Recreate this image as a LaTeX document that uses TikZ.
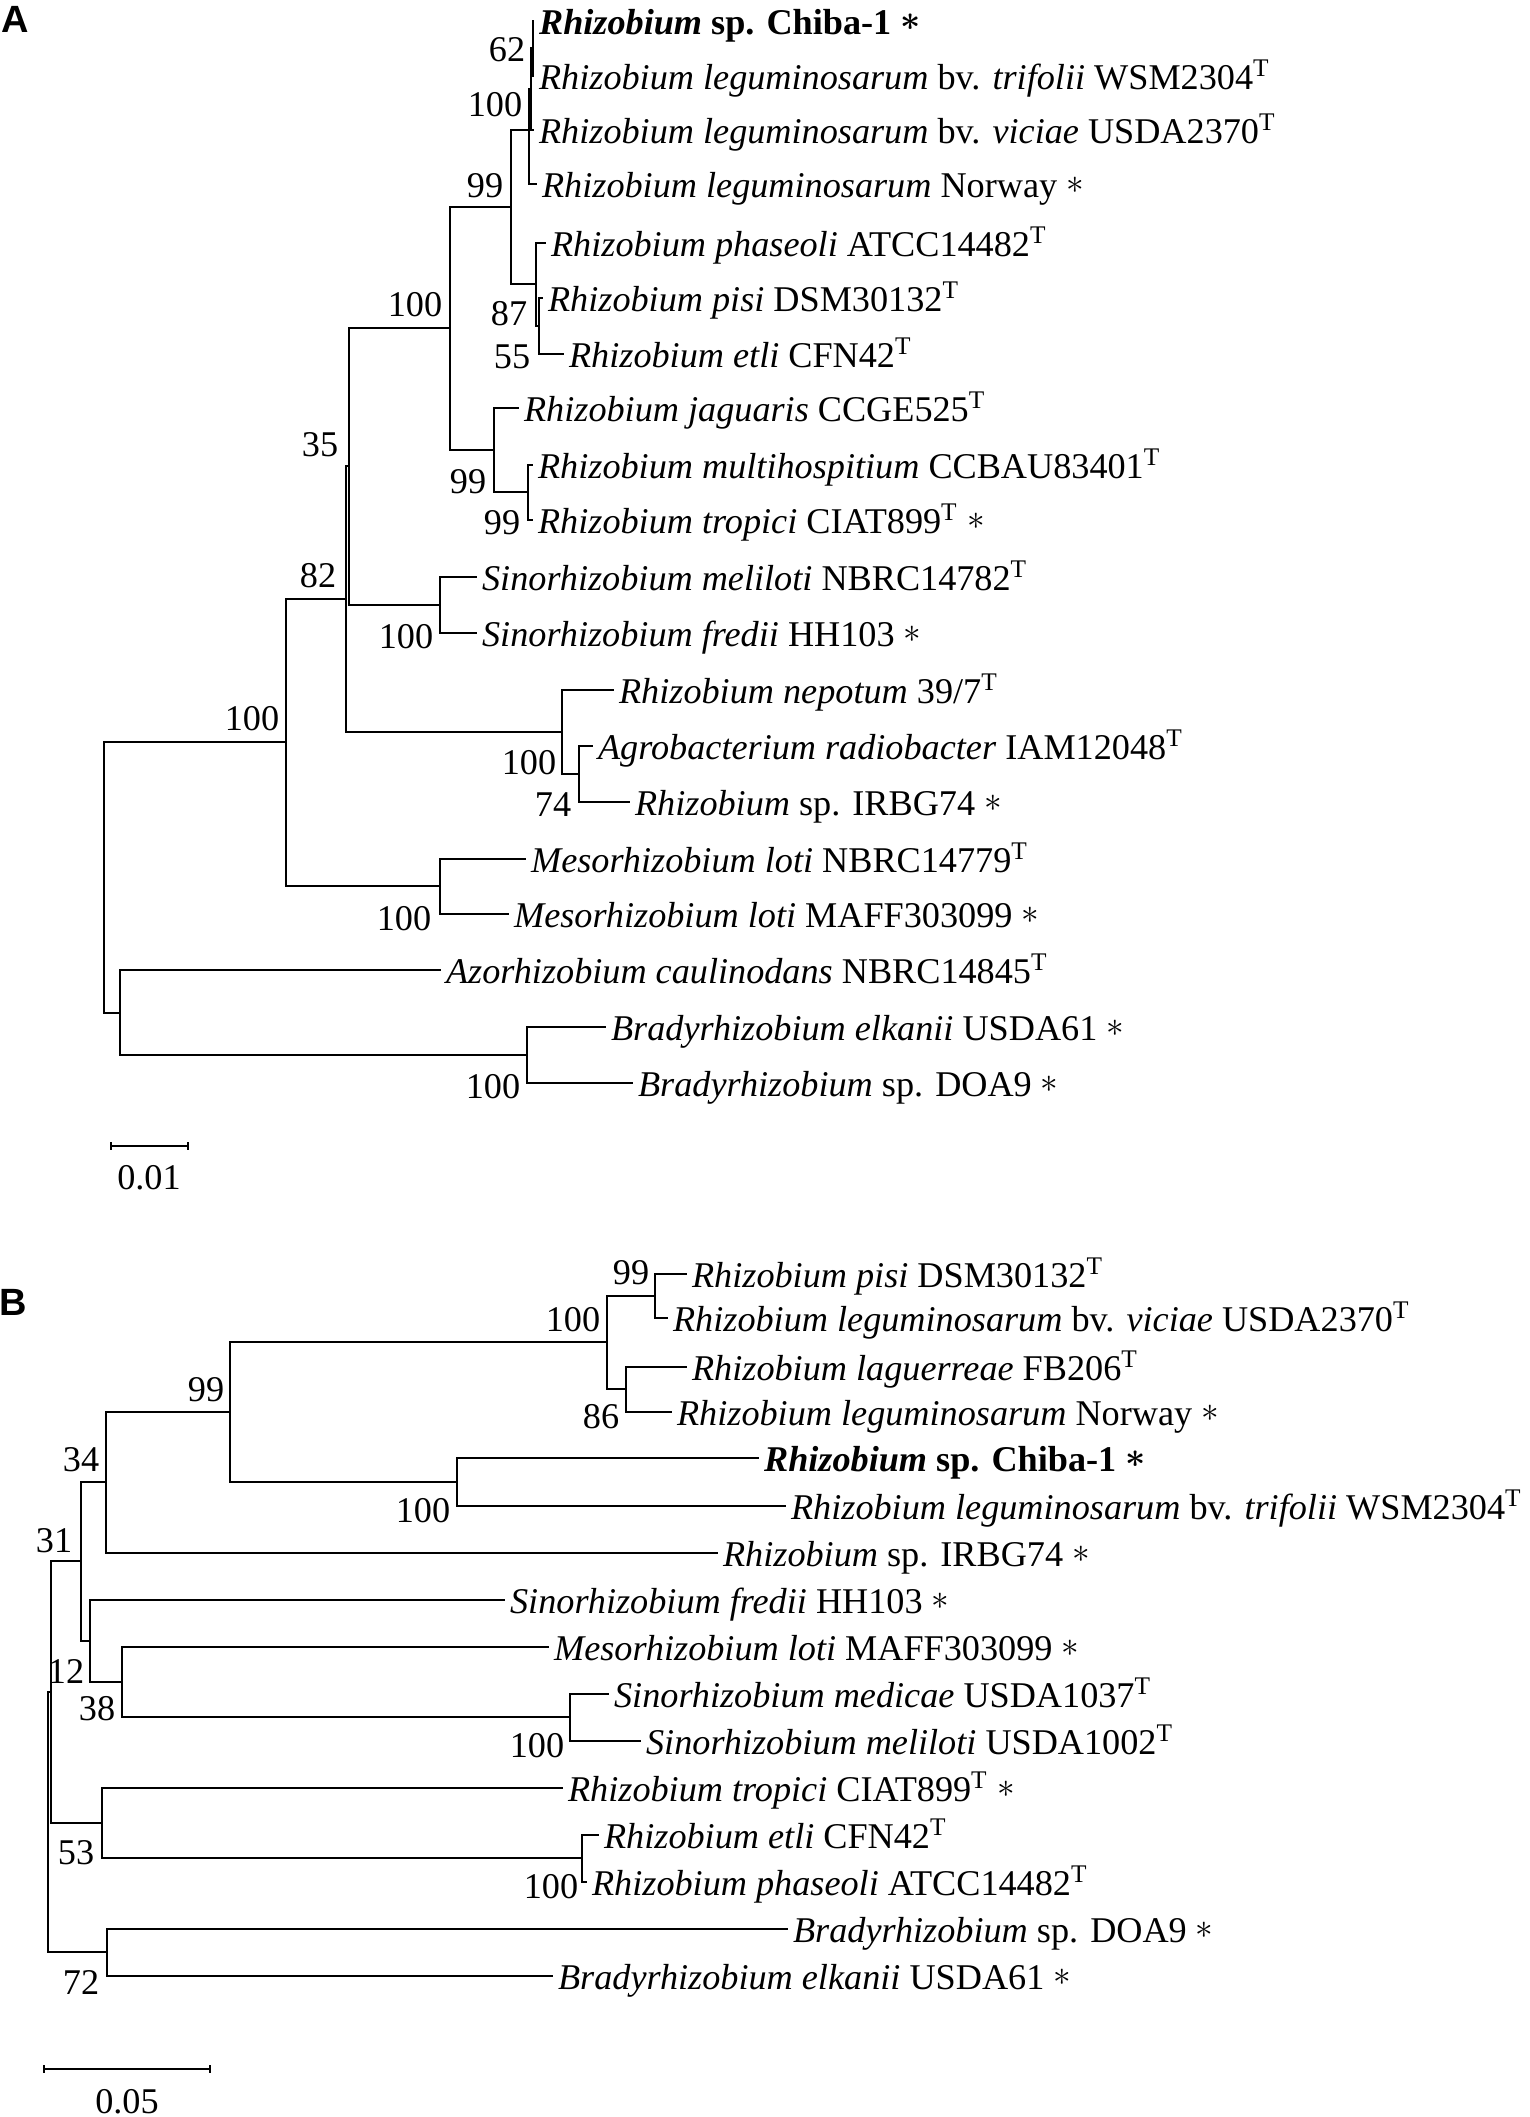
\documentclass[tikz,border=0pt]{standalone}
\usepackage{fontspec}
\setmainfont{Liberation Serif}
\newfontfamily\panelfont{Liberation Sans}
\newcommand{\typestr}{\textsuperscript{T}}
\newcommand{\genome}{\raisebox{0.11em}{$\ast$}}

\begin{document}
\begin{tikzpicture}[x=0.01cm, y=-0.01cm, line width=0.5pt,
  tip/.style={anchor=base west, inner xsep=1.2pt, inner ysep=0pt, yshift=-3.8pt},
  boot/.style={anchor=east, inner sep=0pt},
  panel/.style={font=\panelfont\bfseries\fontsize{10.8}{12}\selectfont, inner sep=0pt}]

  \useasboundingbox (0,0) rectangle (1529,2117);
  \fontsize{10.3}{12}\selectfont

  % ---------- tree A ----------
  \node[panel] (pA) at (15,19) {A};

  % tips
  \foreach \n/\x/\y in {a1/534/21, a2/534/76, a3/534/130, a4/537/184,
      a5/546/243, a6/543/298, a7/564/354, a8/519/408, a9/533/465,
      a10/533/520, a11/477/577, a12/477/633, a13/614/690, a14/593/746,
      a15/630/802, a16/526/859, a17/509/914, a18/441/970, a19/606/1027,
      a20/633/1083}
    \coordinate (\n) at (\x,\y);

  % inner nodes
  \foreach \n/\x/\y in {n62/533/48, n100b/531/89, nLeg/529/130,
      nPisi/539/326, nPha/536/284, n99/511/207, nTro/528/492,
      nJag/494/450, n100c/450/328, nSino/440/605, n35/349/466,
      nAgro/579/774, nNep/562/732, n82/346/599, nMeso/440/886,
      nBig/286/742, nBrady/527/1055, nLow/120/1013, rootA/104/877}
    \coordinate (\n) at (\x,\y);

  \foreach \p/\c in {n62/a1, n62/a2, n100b/n62, n100b/a3, nLeg/n100b,
      nLeg/a4, nPisi/a6, nPisi/a7, nPha/a5, nPha/nPisi, n99/nLeg,
      n99/nPha, nTro/a9, nTro/a10, nJag/a8, nJag/nTro, n100c/n99,
      n100c/nJag, nSino/a11, nSino/a12, n35/n100c, n35/nSino,
      nAgro/a14, nAgro/a15, nNep/a13, nNep/nAgro, n82/n35, n82/nNep,
      nMeso/a16, nMeso/a17, nBig/n82, nBig/nMeso, nBrady/a19,
      nBrady/a20, nLow/a18, nLow/nBrady, rootA/nBig, rootA/nLow}
    \draw (\p) |- (\c);

  \node[tip] (la1) at (a1) {\textbf{\textit{Rhizobium} sp. Chiba-1 {\boldmath\genome}}};
  \node[tip] (la2) at (a2) {\textit{Rhizobium leguminosarum} bv. \textit{trifolii} WSM2304\typestr};
  \node[tip] (la3) at (a3) {\textit{Rhizobium leguminosarum} bv. \textit{viciae} USDA2370\typestr};
  \node[tip] (la4) at (a4) {\textit{Rhizobium leguminosarum} Norway \genome};
  \node[tip] (la5) at (a5) {\textit{Rhizobium phaseoli} ATCC14482\typestr};
  \node[tip] (la6) at (a6) {\textit{Rhizobium pisi} DSM30132\typestr};
  \node[tip] (la7) at (a7) {\textit{Rhizobium etli} CFN42\typestr};
  \node[tip] (la8) at (a8) {\textit{Rhizobium jaguaris} CCGE525\typestr};
  \node[tip] (la9) at (a9) {\textit{Rhizobium multihospitium} CCBAU83401\typestr};
  \node[tip] (la10) at (a10) {\textit{Rhizobium tropici} CIAT899\typestr{} \genome};
  \node[tip] (la11) at (a11) {\textit{Sinorhizobium meliloti} NBRC14782\typestr};
  \node[tip] (la12) at (a12) {\textit{Sinorhizobium fredii} HH103 \genome};
  \node[tip] (la13) at (a13) {\textit{Rhizobium nepotum} 39/7\typestr};
  \node[tip] (la14) at (a14) {\textit{Agrobacterium radiobacter} IAM12048\typestr};
  \node[tip] (la15) at (a15) {\textit{Rhizobium} sp. IRBG74 \genome};
  \node[tip] (la16) at (a16) {\textit{Mesorhizobium loti} NBRC14779\typestr};
  \node[tip] (la17) at (a17) {\textit{Mesorhizobium loti} MAFF303099 \genome};
  \node[tip] (la18) at (a18) {\textit{Azorhizobium caulinodans} NBRC14845\typestr};
  \node[tip] (la19) at (a19) {\textit{Bradyrhizobium elkanii} USDA61 \genome};
  \node[tip] (la20) at (a20) {\textit{Bradyrhizobium} sp. DOA9 \genome};

  % bootstrap values
  \foreach \x/\y/\v [count=\i] in {526/50/62, 523/105/100, 504/186/99,
      443/305/100, 528/314/87, 531/357/55, 487/482/99, 521/523/99,
      339/445/35, 337/576/82, 434/637/100, 557/763/100, 572/805/74,
      280/719/100, 432/919/100, 521/1087/100}
    \node[boot] (bA\i) at (\x,\y) {\v};

  % scale bar
  \coordinate (sA1) at (111,1146);
  \coordinate (sA2) at (188,1146);
  \draw (sA1) -- (sA2);
  \draw (sA1) ++(0,-4) -- ++(0,8);
  \draw (sA2) ++(0,-4) -- ++(0,8);
  \node (sAl) at (149,1178) {0.01};

  % ---------- tree B ----------
  \node[panel] (pB) at (13,1302) {B};

  \foreach \n/\x/\y in {b1/687/1274, b2/668/1318, b3/687/1367,
      b4/672/1412, b5/759/1458, b6/786/1506, b7/718/1553, b8/505/1600,
      b9/549/1647, b10/609/1694, b11/641/1741, b12/563/1788,
      b13/599/1835, b14/587/1882, b15/788/1929, b16/553/1976}
    \coordinate (\n) at (\x,\y);

  \foreach \n/\x/\y in {m99p/655/1296, m86/626/1389, m100L/607/1342,
      m100C/457/1482, m99B/230/1412, m34/106/1482, mSino/570/1717,
      m38/122/1682, m12/90/1641, m31/81/1561, mEtli/582/1858,
      m53/102/1823, mX/51/1692, m72/107/1952, rootB/48/1822}
    \coordinate (\n) at (\x,\y);

  \foreach \p/\c in {m99p/b1, m99p/b2, m86/b3, m86/b4, m100L/m99p,
      m100L/m86, m100C/b5, m100C/b6, m99B/m100L, m99B/m100C, m34/m99B,
      m34/b7, mSino/b10, mSino/b11, m38/b9, m38/mSino, m12/b8,
      m12/m38, m31/m34, m31/m12, mEtli/b13, mEtli/b14, m53/b12,
      m53/mEtli, mX/m31, mX/m53, m72/b15, m72/b16, rootB/mX,
      rootB/m72}
    \draw (\p) |- (\c);

  \node[tip] (lb1) at (b1) {\textit{Rhizobium pisi} DSM30132\typestr};
  \node[tip] (lb2) at (b2) {\textit{Rhizobium leguminosarum} bv. \textit{viciae} USDA2370\typestr};
  \node[tip] (lb3) at (b3) {\textit{Rhizobium laguerreae} FB206\typestr};
  \node[tip] (lb4) at (b4) {\textit{Rhizobium leguminosarum} Norway \genome};
  \node[tip] (lb5) at (b5) {\textbf{\textit{Rhizobium} sp. Chiba-1 {\boldmath\genome}}};
  \node[tip] (lb6) at (b6) {\textit{Rhizobium leguminosarum} bv. \textit{trifolii} WSM2304\typestr};
  \node[tip] (lb7) at (b7) {\textit{Rhizobium} sp. IRBG74 \genome};
  \node[tip] (lb8) at (b8) {\textit{Sinorhizobium fredii} HH103 \genome};
  \node[tip] (lb9) at (b9) {\textit{Mesorhizobium loti} MAFF303099 \genome};
  \node[tip] (lb10) at (b10) {\textit{Sinorhizobium medicae} USDA1037\typestr};
  \node[tip] (lb11) at (b11) {\textit{Sinorhizobium meliloti} USDA1002\typestr};
  \node[tip] (lb12) at (b12) {\textit{Rhizobium tropici} CIAT899\typestr{} \genome};
  \node[tip] (lb13) at (b13) {\textit{Rhizobium etli} CFN42\typestr};
  \node[tip] (lb14) at (b14) {\textit{Rhizobium phaseoli} ATCC14482\typestr};
  \node[tip] (lb15) at (b15) {\textit{Bradyrhizobium} sp. DOA9 \genome};
  \node[tip] (lb16) at (b16) {\textit{Bradyrhizobium elkanii} USDA61 \genome};

  \foreach \x/\y/\v [count=\i] in {650/1273/99, 601/1320/100, 620/1417/86,
      225/1390/99, 451/1511/100, 100/1460/34, 73/1541/31, 85/1671/12,
      116/1709/38, 565/1746/100, 95/1853/53, 579/1887/100, 100/1982/72}
    \node[boot] (bB\i) at (\x,\y) {\v};

  \coordinate (sB1) at (44,2069);
  \coordinate (sB2) at (210,2069);
  \draw (sB1) -- (sB2);
  \draw (sB1) ++(0,-4) -- ++(0,8);
  \draw (sB2) ++(0,-4) -- ++(0,8);
  \node (sBl) at (127,2102) {0.05};

\end{tikzpicture}
\end{document}
